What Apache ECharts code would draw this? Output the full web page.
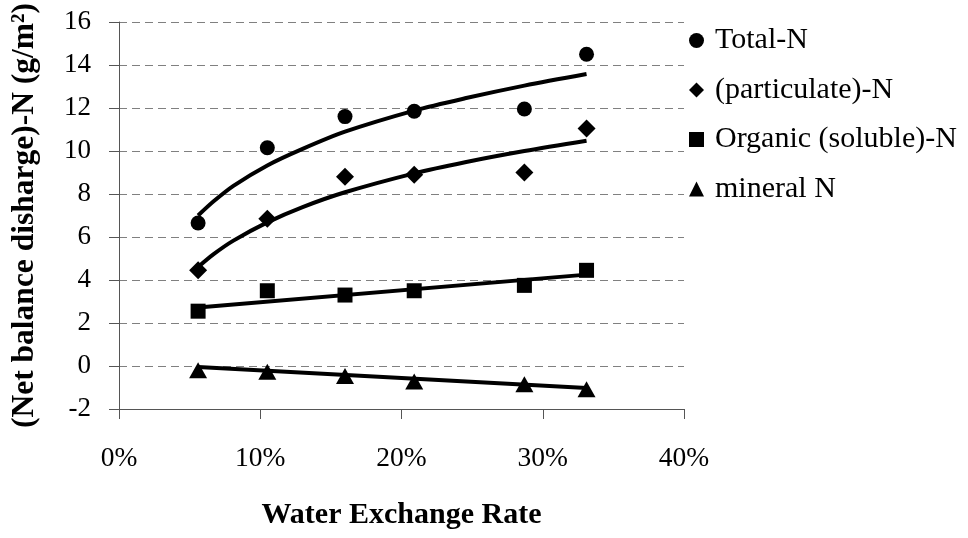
<!DOCTYPE html>
<html>
<head>
<meta charset="utf-8">
<script src="https://cdn.jsdelivr.net/npm/echarts@6/dist/echarts.min.js"></script>
<style>
html,body{margin:0;padding:0;background:#fff;}
#chart{width:968px;height:538px;}
</style>
</head>
<body>
<div id="chart"></div>
<script>
// ---- data ----
var seriesNames = ['Total-N', '(particulate)-N', 'Organic (soluble)-N', 'mineral N'];
var xRate = [0.056, 0.105, 0.160, 0.209, 0.287, 0.331];
var totalN = [6.65, 10.15, 11.6, 11.85, 11.95, 14.5];
var particulateN = [4.45, 6.85, 8.8, 8.9, 9.0, 11.05];
var organicN = [2.55, 3.5, 3.3, 3.5, 3.75, 4.45];
var mineralN = [-0.2, -0.27, -0.47, -0.72, -0.85, -1.08];

// trend lines as drawn in the picture
var curveX = [0.056, 0.067, 0.081, 0.105, 0.130, 0.160, 0.209, 0.245, 0.287, 0.331];
var totalTrend = [7.0, 7.66, 8.38, 9.33, 10.1, 10.9, 11.88, 12.45, 13.04, 13.58];
var particulateTrend = [4.6, 5.2, 5.83, 6.68, 7.39, 8.08, 8.96, 9.48, 10.0, 10.48];
var lineX = [0.056, 0.331];
var organicTrend = [2.72, 4.25];
var mineralTrend = [-0.05, -1.02];

var xTicks = [0, 0.1, 0.2, 0.3, 0.4];
var yTicks = [-2, 0, 2, 4, 6, 8, 10, 12, 14, 16];

function pairs(xs, ys) {
  return xs.map(function (x, i) { return [x, ys[i]]; });
}

var FONT = 'Liberation Serif';
var chart = echarts.init(document.getElementById('chart'));

function scatter(name, ys, symbol, size) {
  return {
    name: name, type: 'scatter', data: pairs(xRate, ys),
    symbol: symbol, symbolSize: size,
    itemStyle: { color: '#000', opacity: 1 }, z: 3
  };
}
function trend(name, xs, ys, smooth) {
  return {
    name: name, type: 'line', data: pairs(xs, ys),
    showSymbol: false, symbol: 'none', smooth: smooth ? 0.3 : false,
    lineStyle: { color: '#000', width: 4 }, z: 2, silent: true
  };
}

chart.setOption({
  animation: false,
  backgroundColor: '#fff',
  grid: { left: 119, right: 284, top: 21, bottom: 129, containLabel: false },
  xAxis: {
    type: 'value', min: xTicks[0], max: xTicks[xTicks.length - 1], interval: 0.1,
    name: 'Water Exchange Rate', nameLocation: 'middle', nameGap: 91,
    nameTextStyle: { fontFamily: FONT, fontWeight: 'bold', fontSize: 30, color: '#000' },
    axisLine: { show: true, onZero: false, lineStyle: { color: '#555', width: 1 } },
    axisTick: { show: true, inside: false, length: 10, lineStyle: { color: '#555' } },
    axisLabel: {
      margin: 36, fontFamily: FONT, fontSize: 27.5, color: '#000',
      formatter: function (v) { return Math.round(v * 100) + '%'; }
    },
    splitLine: { show: false }
  },
  yAxis: {
    type: 'value', min: yTicks[0], max: yTicks[yTicks.length - 1], interval: 2,
    name: '(Net balance disharge)-N (g/m\u00B2)', nameLocation: 'middle', nameGap: 78,
    nameRotate: 90,
    nameTextStyle: { fontFamily: FONT, fontWeight: 'bold', fontSize: 31.5, color: '#000' },
    axisLine: { show: true, onZero: false, lineStyle: { color: '#555', width: 1 } },
    axisTick: { show: true, inside: false, length: 10, lineStyle: { color: '#555' } },
    axisLabel: { margin: 28, fontFamily: FONT, fontSize: 27, color: '#000' },
    splitLine: { show: true, lineStyle: { color: '#808080', type: [8, 5], width: 1 } }
  },
  legend: {
    data: seriesNames,
    orient: 'vertical', left: 684, top: 20,
    itemWidth: 15, itemHeight: 15, itemGap: 18.5,
    textStyle: { fontFamily: FONT, fontSize: 30, color: '#000', lineHeight: 31, padding: [0, 0, 0, 6] },
    selectedMode: false
  },
  series: [
    trend('Total-N trend', curveX, totalTrend, true),
    trend('(particulate)-N trend', curveX, particulateTrend, true),
    trend('Organic (soluble)-N trend', lineX, organicTrend, false),
    trend('mineral N trend', lineX, mineralTrend, false),
    scatter(seriesNames[0], totalN, 'circle', 15),
    scatter(seriesNames[1], particulateN, 'diamond', 18),
    scatter(seriesNames[2], organicN, 'rect', 15),
    scatter(seriesNames[3], mineralN, 'triangle', [18, 16])
  ]
});
</script>
</body>
</html>
